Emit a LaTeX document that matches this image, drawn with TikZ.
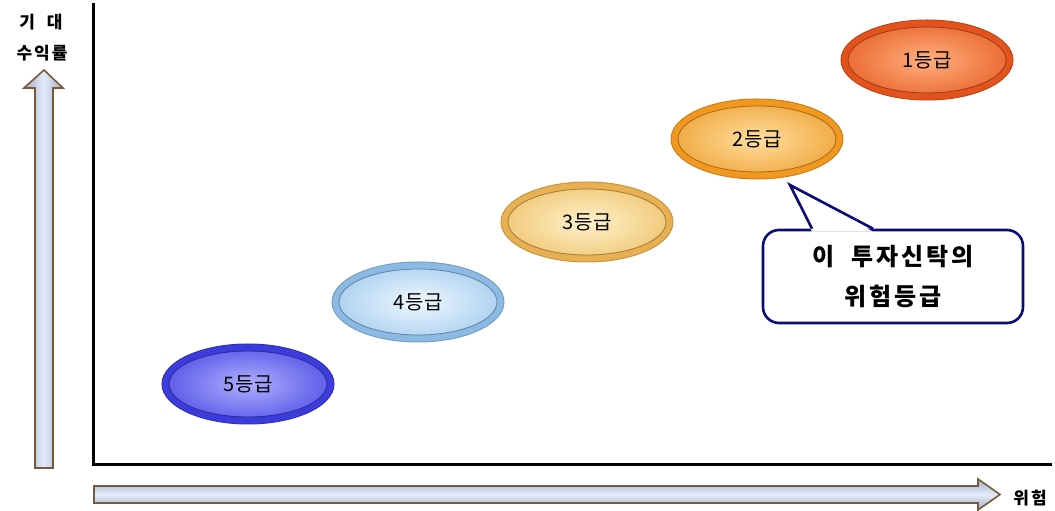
\documentclass[tikz,border=0pt]{standalone}
\usepackage{fontspec}
\setmainfont{Noto Sans CJK KR}
\usepackage{tikz}
\usetikzlibrary{shapes.geometric,positioning}
\definecolor{arrowbrown}{RGB}{122,90,60}
\definecolor{arrowblue}{RGB}{228,236,252}
\definecolor{arrowgray}{RGB}{160,172,192}
\definecolor{notenavy}{RGB}{10,10,120}
% grade colours: rim, centre, edge
\definecolor{rimfive}{RGB}{60,60,220}
\definecolor{infive}{RGB}{176,176,255}
\definecolor{outfive}{RGB}{88,88,232}
\definecolor{rimfour}{RGB}{140,186,228}
\definecolor{infour}{RGB}{240,248,255}
\definecolor{outfour}{RGB}{170,208,240}
\definecolor{rimthree}{RGB}{232,176,80}
\definecolor{inthree}{RGB}{255,242,204}
\definecolor{outthree}{RGB}{240,200,120}
\definecolor{rimtwo}{RGB}{240,152,32}
\definecolor{intwo}{RGB}{255,224,160}
\definecolor{outtwo}{RGB}{240,168,64}
\definecolor{rimone}{RGB}{226,84,28}
\definecolor{inone}{RGB}{255,176,128}
\definecolor{outone}{RGB}{234,104,48}

\tikzset{
  grade/.style n args={3}{ellipse, minimum width=172pt, minimum height=80pt,
    draw=#1!85!black, line width=1pt, inner color=#2, outer color=#3,
    font=\fontsize{20}{20}\selectfont\addfontfeatures{LetterSpace=4},
    path picture={
      \fill[#1, even odd rule] (path picture bounding box.center) ellipse (90pt and 45pt)
        (path picture bounding box.center) ellipse (79pt and 33pt);
      \draw[#1!70!black, line width=0.8pt] (path picture bounding box.center) ellipse (79pt and 33pt);
    }},
  bigarrow/.style={draw=arrowbrown, line width=1.6pt},
  axis/.style={line width=3pt, line cap=rect},
  axislabel/.style={font=\bfseries\fontsize{17}{17}\selectfont\addfontfeatures{LetterSpace=12}},
  notebox/.style={draw=notenavy, line width=2.6pt, rounded corners=16pt, fill=white,
    minimum width=260pt, minimum height=93pt, align=center,
    font=\bfseries\fontsize{24}{40}\selectfont\addfontfeatures{LetterSpace=12}}
}

\begin{document}
\begin{tikzpicture}[x=1pt, y=1pt]
  \useasboundingbox (0,0) rectangle (1055,511);

  % axes
  \coordinate (ytop) at (93,506);
  \coordinate (xend) at (1050,46);
  \draw[axis] (ytop) |- (xend);

  % block arrows
  \draw[bigarrow, left color=arrowgray, right color=arrowgray, middle color=arrowblue]
    (35,43) -- (35,423) -- (24,423) -- (44,441) -- (63,423) -- (53,423) -- (53,43) -- cycle;
  \draw[bigarrow, top color=arrowgray, bottom color=arrowgray, middle color=arrowblue]
    (94,8) -- (94,25) -- (978,25) -- (978,32) -- (1000,16.5) -- (978,1) -- (978,8) -- cycle;

  \node[axislabel] (ylab1) at (41,489) {기\ \ 대};
  \node[axislabel] (ylab2) at (42,458) {수익률};
  \node[axislabel] (xlab) at (1030,13) {위험};

  % risk grades
  \node[grade={rimfive}{infive}{outfive}] (g5) at (248,127) {5등급};
  \node[grade={rimfour}{infour}{outfour}] (g4) at (418,209) {4등급};
  \node[grade={rimthree}{inthree}{outthree}] (g3) at (587,289) {3등급};
  \node[grade={rimtwo}{intwo}{outtwo}] (g2) at (757,372) {2등급};
  \node[grade={rimone}{inone}{outone}] (g1) at (927,451) {1등급};

  % callout
  \node[notebox] (note) at (893,234.5) {이\ \ 투자신탁의\\위험등급};
  \coordinate (tip) at (790,326);
  \fill[white] ([xshift=-81pt,yshift=-3pt]note.north) -- (tip) -- ([xshift=-20pt,yshift=-3pt]note.north) -- cycle;
  \draw[notenavy, line width=2.6pt, line join=miter] ([xshift=-81pt]note.north) -- (tip) -- ([xshift=-20pt]note.north);
\end{tikzpicture}
\end{document}
